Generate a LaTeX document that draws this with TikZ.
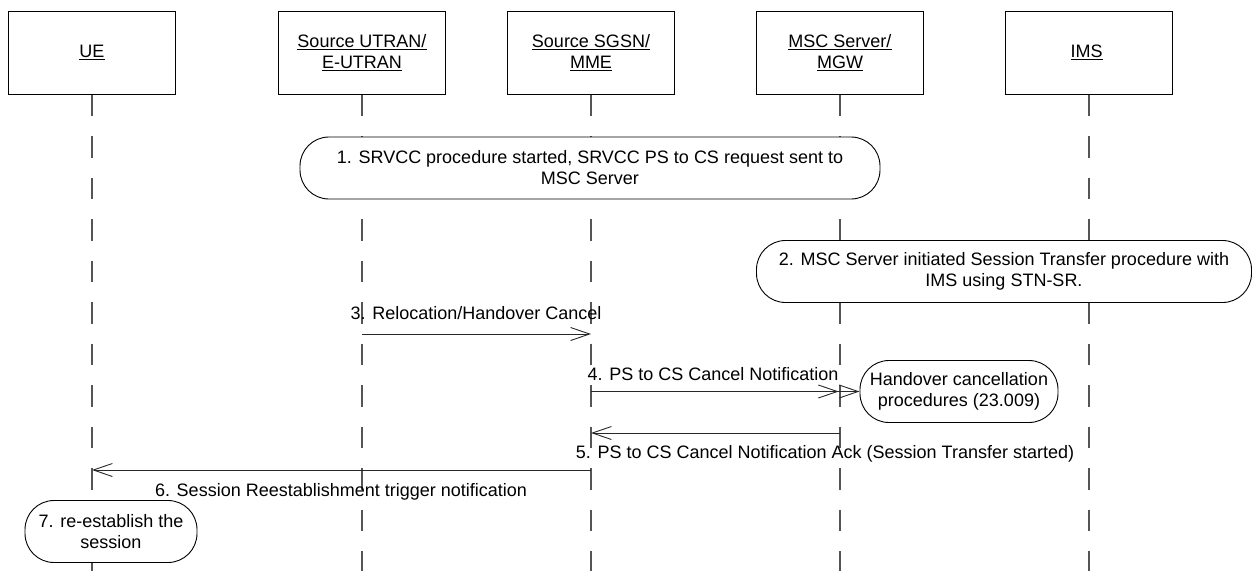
\documentclass[tikz,border=0pt]{standalone}
\usepackage{fontspec}
\setmainfont{Liberation Sans}
\usetikzlibrary{arrows.meta,positioning}
\definecolor{LifeGray}{RGB}{85,85,85}
\definecolor{MsgGray}{RGB}{40,40,40}

\begin{document}
\begin{tikzpicture}[x=1pt,y=1pt,
  font=\fontsize{18}{21}\selectfont,
  entity/.style={draw,line width=1pt,minimum width=167pt,minimum height=83pt,align=center,inner sep=0pt},
  lifeline/.style={LifeGray,line width=1.1pt,dash pattern=on 21.7pt off 19.8pt},
  oval/.style={draw,fill=white,line width=0.9pt,rounded corners=29pt,minimum height=62pt,align=center,inner sep=0pt},
  msg/.style={MsgGray,line width=0.9pt,-{Straight Barb[length=19pt,width=13pt]}},
  lbl/.style={inner sep=0pt}]
\useasboundingbox (0,0) rectangle (1254,-571);
% entities and lifelines
\foreach \n/\x/\t in {
  ue/92/{\underline{UE}},
  utran/362/{\underline{Source UTRAN/}\\\underline{E-UTRAN}},
  sgsn/591/{\underline{Source SGSN/}\\\underline{MME}},
  msc/840/{\underline{MSC Server/}\\\underline{MGW}},
  ims/1089/{\underline{IMS}}
}{
  \node[entity] (\n) at (\x,-52.5) {\t};
  \draw[lifeline] (\n.south) -- (\n.south |- 0,-571);
}
% steps
\node[oval,minimum width=580pt] (s1) at (590,-168) {1. SRVCC procedure started, SRVCC PS to CS request sent to\\MSC Server};
\node[oval,minimum width=495pt] (s2) at (1004,-271.5) {2. MSC Server initiated Session Transfer procedure with\\IMS using STN-SR.};
\node[oval,minimum width=198pt] (s4) at (959,-391.5) {Handover cancellation\\procedures (23.009)};
\node[oval,minimum width=172pt] (s7) at (111,-531.5) {7. re-establish the\\session};
% messages
\draw[msg] (utran |- 0,-334) -- (sgsn |- 0,-334);
\node[lbl] (l3) at (476,-313) {3. Relocation/Handover Cancel};
\draw[MsgGray,line width=0.9pt,-{Straight Barb[length=19pt,width=13pt,sep=0pt]Straight Barb[length=19pt,width=13pt]}] (sgsn |- s4.west) -- (s4.west);
\node[lbl] (l4) at (713,-374) {4. PS to CS Cancel Notification};
\draw[msg] (msc |- 0,-433) -- (sgsn |- 0,-433);
\node[lbl] (l5) at (825,-454) {5. PS to CS Cancel Notification Ack (Session Transfer started)};
\draw[msg] (sgsn |- 0,-470) -- (ue |- 0,-470);
\node[lbl] (l6) at (341,-492) {6. Session Reestablishment trigger notification};
\end{tikzpicture}
\end{document}
